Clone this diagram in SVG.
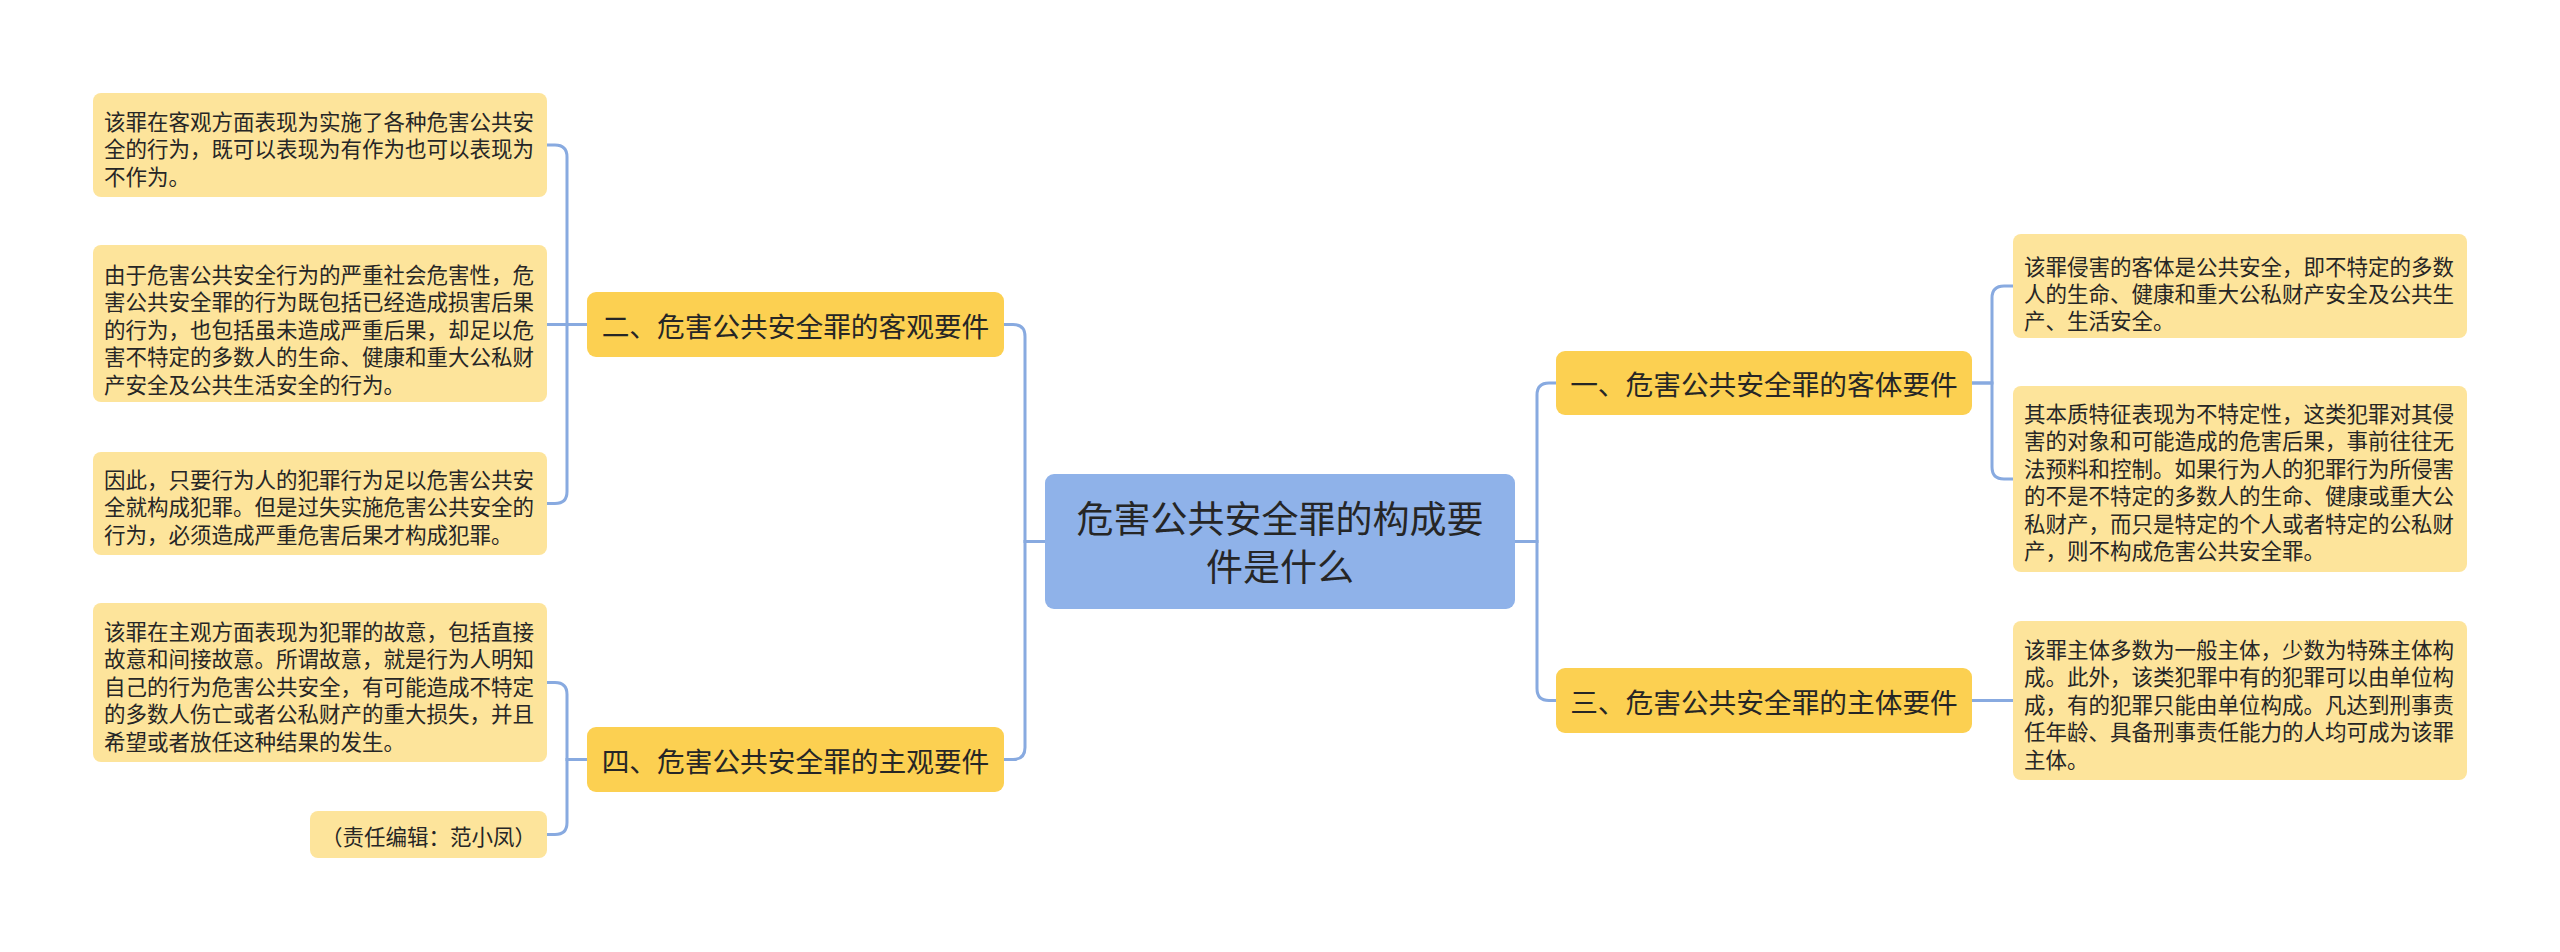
<svg xmlns="http://www.w3.org/2000/svg" width="2560" height="952" viewBox="0 0 2560 952">
<style>
text{font-family:"Noto Sans CJK SC","Noto Sans",sans-serif;fill:#262626;dominant-baseline:central}
.root{fill:#8fb2e9}
.l1{fill:#fcd051}
.leaf{fill:#fde49b}
.rt{font-size:37px;text-anchor:middle}
.t1{font-size:27.7px;text-anchor:middle}
.tl{font-size:21.5px}
.conn path{fill:none;stroke:#88aae0;stroke-width:3}
</style>
<rect width="2560" height="952" fill="#ffffff"/>
<g class="conn" id="connectors">
<path d="M1045,541.5 H1025 V336.5 Q1025,324.5 1013,324.5 H1004"/>
<path d="M1045,541.5 H1025 V747.5 Q1025,759.5 1013,759.5 H1004"/>
<path d="M1515,541.5 H1537 V395 Q1537,383 1549,383 H1556"/>
<path d="M1515,541.5 H1537 V688.5 Q1537,700.5 1549,700.5 H1556"/>
<path d="M587,324.5 H567 V157 Q567,145 555,145 H547"/>
<path d="M587,324.5 H547"/>
<path d="M587,324.5 H567 V491.5 Q567,503.5 555,503.5 H547"/>
<path d="M587,759.5 H567 V694.5 Q567,682.5 555,682.5 H547"/>
<path d="M587,759.5 H567 V822.5 Q567,834.5 555,834.5 H547"/>
<path d="M1972,383 H1992 V298 Q1992,286 2004,286 H2013"/>
<path d="M1972,383 H1992 V467 Q1992,479 2004,479 H2013"/>
<path d="M1972,700.5 H2013"/>
</g>
<g id="root">
<rect class="root" x="1045" y="474" width="470" height="135" rx="9"/>
<text class="rt" x="1280" y="517">危害公共安全罪的构成要</text>
<text class="rt" x="1280" y="565">件是什么</text>
</g>
<g id="n1">
<rect class="l1" x="1556" y="351" width="416" height="64" rx="9"/>
<text class="t1" x="1764" y="383">一、危害公共安全罪的客体要件</text>
</g>
<g id="n2">
<rect class="l1" x="587" y="292" width="417" height="65" rx="9"/>
<text class="t1" x="795.5" y="325">二、危害公共安全罪的客观要件</text>
</g>
<g id="n3">
<rect class="l1" x="1556" y="668" width="416" height="65" rx="9"/>
<text class="t1" x="1764" y="701">三、危害公共安全罪的主体要件</text>
</g>
<g id="n4">
<rect class="l1" x="587" y="727" width="417" height="65" rx="9"/>
<text class="t1" x="795.5" y="760">四、危害公共安全罪的主观要件</text>
</g>
<g id="n2a">
<rect class="leaf" x="93" y="93" width="454" height="104" rx="8"/>
<text class="tl" x="104" y="120">该罪在客观方面表现为实施了各种危害公共安</text>
<text class="tl" x="104" y="147.5">全的行为，既可以表现为有作为也可以表现为</text>
<text class="tl" x="104" y="175">不作为。</text>
</g>
<g id="n2b">
<rect class="leaf" x="93" y="245" width="454" height="157" rx="8"/>
<text class="tl" x="104" y="273">由于危害公共安全行为的严重社会危害性，危</text>
<text class="tl" x="104" y="300.5">害公共安全罪的行为既包括已经造成损害后果</text>
<text class="tl" x="104" y="328">的行为，也包括虽未造成严重后果，却足以危</text>
<text class="tl" x="104" y="355.5">害不特定的多数人的生命、健康和重大公私财</text>
<text class="tl" x="104" y="383">产安全及公共生活安全的行为。</text>
</g>
<g id="n2c">
<rect class="leaf" x="93" y="452" width="454" height="103" rx="8"/>
<text class="tl" x="104" y="478">因此，只要行为人的犯罪行为足以危害公共安</text>
<text class="tl" x="104" y="505.5">全就构成犯罪。但是过失实施危害公共安全的</text>
<text class="tl" x="104" y="533">行为，必须造成严重危害后果才构成犯罪。</text>
</g>
<g id="n4a">
<rect class="leaf" x="93" y="603" width="454" height="159" rx="8"/>
<text class="tl" x="104" y="630">该罪在主观方面表现为犯罪的故意，包括直接</text>
<text class="tl" x="104" y="657.5">故意和间接故意。所谓故意，就是行为人明知</text>
<text class="tl" x="104" y="685">自己的行为危害公共安全，有可能造成不特定</text>
<text class="tl" x="104" y="712.5">的多数人伤亡或者公私财产的重大损失，并且</text>
<text class="tl" x="104" y="740">希望或者放任这种结果的发生。</text>
</g>
<g id="n4b">
<rect class="leaf" x="310" y="811" width="237" height="47" rx="8"/>
<text class="tl" x="428.5" y="835" text-anchor="middle">（责任编辑：范小凤）</text>
</g>
<g id="n1a">
<rect class="leaf" x="2013" y="234" width="454" height="104" rx="8"/>
<text class="tl" x="2024" y="265">该罪侵害的客体是公共安全，即不特定的多数</text>
<text class="tl" x="2024" y="292">人的生命、健康和重大公私财产安全及公共生</text>
<text class="tl" x="2024" y="319.5">产、生活安全。</text>
</g>
<g id="n1b">
<rect class="leaf" x="2013" y="386" width="454" height="186" rx="8"/>
<text class="tl" x="2024" y="412">其本质特征表现为不特定性，这类犯罪对其侵</text>
<text class="tl" x="2024" y="439.5">害的对象和可能造成的危害后果，事前往往无</text>
<text class="tl" x="2024" y="467">法预料和控制。如果行为人的犯罪行为所侵害</text>
<text class="tl" x="2024" y="494.5">的不是不特定的多数人的生命、健康或重大公</text>
<text class="tl" x="2024" y="522">私财产，而只是特定的个人或者特定的公私财</text>
<text class="tl" x="2024" y="549.5">产，则不构成危害公共安全罪。</text>
</g>
<g id="n3a">
<rect class="leaf" x="2013" y="621" width="454" height="159" rx="8"/>
<text class="tl" x="2024" y="648">该罪主体多数为一般主体，少数为特殊主体构</text>
<text class="tl" x="2024" y="675.5">成。此外，该类犯罪中有的犯罪可以由单位构</text>
<text class="tl" x="2024" y="703">成，有的犯罪只能由单位构成。凡达到刑事责</text>
<text class="tl" x="2024" y="730.5">任年龄、具备刑事责任能力的人均可成为该罪</text>
<text class="tl" x="2024" y="758">主体。</text>
</g>
</svg>
